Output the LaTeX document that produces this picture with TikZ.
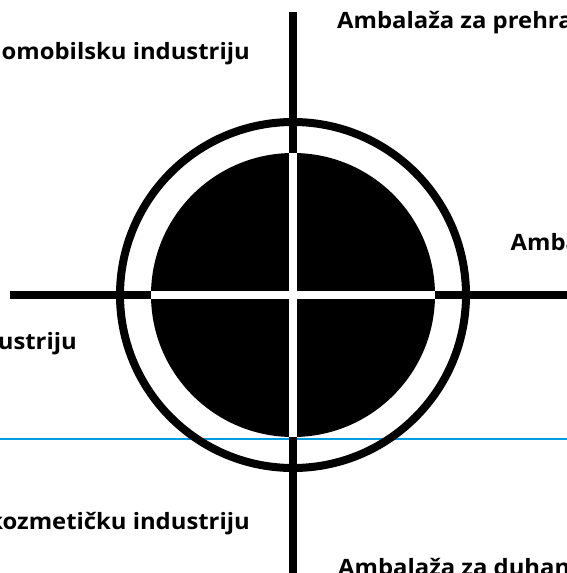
\documentclass[tikz,border=0pt]{standalone}
\usepackage{fontspec}
\setmainfont{Open Sans}[FakeStretch=1.06]
\definecolor{guide}{RGB}{0,158,224}
\begin{document}
\begin{tikzpicture}[x=1pt,y=-1pt,
  blk/.style={line width=8pt,black},
  lbl/.style={inner sep=0pt,font=\fontsize{22.5}{26}\selectfont\bfseries}]
\useasboundingbox (0,0) rectangle (567,573);
\clip (0,0) rectangle (567,573);
\coordinate (C) at (293,295);
\coordinate (top) at (293,12);
\coordinate (bot) at (293,580);
\coordinate (lft) at (10,295);
\coordinate (rgt) at (580,295);
\coordinate (gl) at (-5,439);
\coordinate (gr) at (575,439);
% guide line (behind)
\draw[guide,line width=2pt] (gl) -- (gr);
% axes
\draw[blk] (top) -- (bot);
\draw[blk] (lft) -- (rgt);
% ring
\draw[blk] (C) circle[radius=173];
% disk
\fill[black] (C) circle[radius=142];
\begin{scope}
  \clip (C) circle[radius=142];
  \draw[line width=8pt,white] (top) -- (bot);
  \draw[line width=8pt,white] (lft) -- (rgt);
\end{scope}
% labels
\node[lbl,anchor=base west] (t1) at (337,28.5) {Ambalaža za prehra};
\node[lbl,anchor=base east] (t2) at (250,59.5) {omobilsku industriju};
\node[lbl,anchor=base west] (t3) at (510.5,250.5) {Amba};
\node[lbl,anchor=base east] (t4) at (77,349) {ustriju};
\node[lbl,anchor=base east] (t5) at (250,529) {kozmetičku industriju};
\node[lbl,anchor=base west] (t6) at (338,575) {Ambalaža za duhan};
\end{tikzpicture}
\end{document}
